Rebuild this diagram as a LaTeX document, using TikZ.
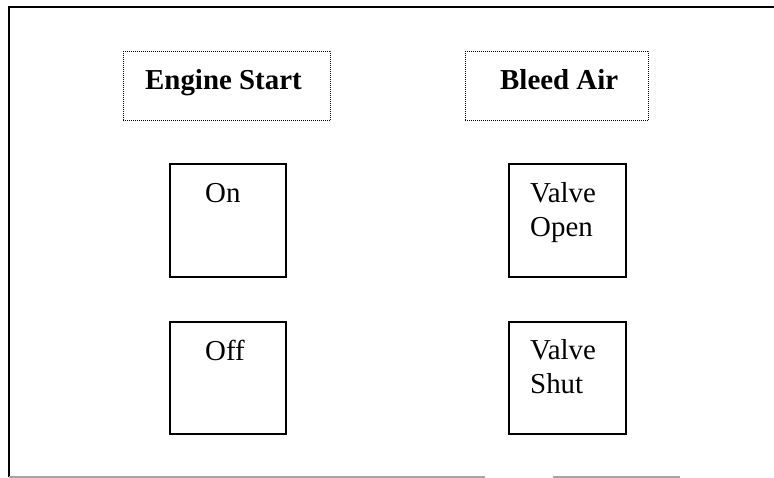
\documentclass[tikz,border=0pt]{standalone}
\usepackage{fontspec}
\setmainfont{Liberation Serif}
\begin{document}
\begin{tikzpicture}[x=1bp,y=-1bp,
  frame/.style={line width=2.2bp,black},
  bottomline/.style={line width=1.2bp,black!35},
  titlebox/.style={draw,line width=1bp,dash pattern=on 1bp off 1bp,inner sep=0pt},
  panel/.style={draw,line width=1.6bp,inner sep=0pt},
  lbl/.style={font=\fontsize{29}{34}\selectfont,inner sep=0pt,anchor=base west},
  ttl/.style={font=\fontsize{29}{34}\selectfont\bfseries,inner sep=0pt,anchor=base west}]
\useasboundingbox (0,0) rectangle (774,478);
% outer frame
\coordinate (fbl) at (9,477);
\coordinate (ftl) at (9,7);
\coordinate (ftr) at (774,7);
\draw[frame] (fbl) -- (ftl) -- (ftr);
\coordinate (b1) at (9,477);
\coordinate (b2) at (485,477);
\coordinate (b3) at (553,477);
\coordinate (b4) at (680,477);
\draw[bottomline] (b1) -- (b2);
\draw[bottomline] (b3) -- (b4);
% title boxes
\node[titlebox,minimum width=207bp,minimum height=69bp] (esbox) at (226.5,86.5) {};
\node[titlebox,minimum width=183bp,minimum height=69bp] (babox) at (556.5,86.5) {};
\node[ttl] (es) at (145,90) {Engine Start};
\node[ttl] (ba) at (500,90) {Bleed Air};
% panels
\node[panel,minimum width=116bp,minimum height=113bp] (onbox) at (228,220.5) {};
\node[panel,minimum width=116bp,minimum height=112bp] (offbox) at (228,378) {};
\node[panel,minimum width=117bp,minimum height=113bp] (vobox) at (567.5,220.5) {};
\node[panel,minimum width=117bp,minimum height=112bp] (vsbox) at (567.5,378) {};
\node[lbl] (on) at (205,203) {On};
\node[lbl] (off) at (205,360) {Off};
\node[lbl] (v1) at (530,203) {Valve};
\node[lbl] (op) at (530,237) {Open};
\node[lbl] (v2) at (530,359) {Valve};
\node[lbl] (sh) at (530,393) {Shut};
\end{tikzpicture}
\end{document}
